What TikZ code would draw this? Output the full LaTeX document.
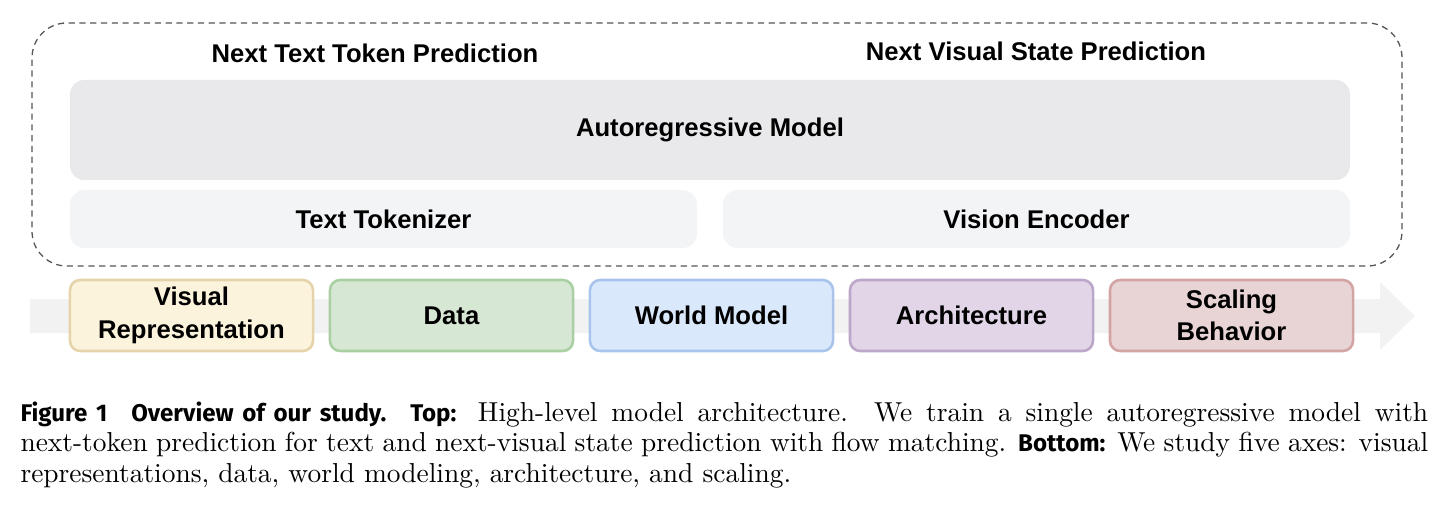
\documentclass[tikz,border=0pt]{standalone}
\usepackage{fontspec}
\newfontfamily\diagfont{Liberation Sans}
\newfontfamily\capfont{Fira Sans}
\definecolor{framegray}{HTML}{555555}
\definecolor{arfill}{HTML}{E9E9EC}
\definecolor{encfill}{HTML}{F3F4F6}
\definecolor{flowgray}{HTML}{F2F2F2}
\definecolor{visfill}{HTML}{FCF3DC}\definecolor{visline}{HTML}{E5D4AA}
\definecolor{datfill}{HTML}{D6E8D4}\definecolor{datline}{HTML}{A9CFA3}
\definecolor{wmfill}{HTML}{DAE8FC}\definecolor{wmline}{HTML}{A9C4EB}
\definecolor{arcfill}{HTML}{E1D5E7}\definecolor{arcline}{HTML}{BCA6C9}
\definecolor{scafill}{HTML}{E9D4D5}\definecolor{scaline}{HTML}{D3A4A4}
\tikzset{
  lbl/.style={font=\diagfont\bfseries\fontsize{10}{12}\selectfont,align=center,inner sep=0pt},
  layer/.style={lbl,rounded corners=5.5pt,minimum width=499.2pt},
  axis/.style={lbl,font=\diagfont\bfseries\fontsize{10}{12.6}\selectfont,rounded corners=4pt,line width=1pt,minimum width=94.8pt,minimum height=27.7pt},
}
\begin{document}
\begin{tikzpicture}[x=0.39pt,y=-0.39pt]
\useasboundingbox (0,0) rectangle (1442,507);
\node[draw=framegray,line width=0.5pt,dash pattern=on 2.4pt off 1.8pt,rounded corners=13.6pt,minimum width=534.3pt,minimum height=94.8pt] (study) at (717,144.5) {};
\node[lbl] (nexttext) at (375,53) {Next Text Token Prediction};
\node[lbl] (nextvis) at (1036,51) {Next Visual State Prediction};
\node[layer,fill=arfill,minimum height=39pt] (armodel) at (710,130) {Autoregressive Model};
\node[layer,fill=encfill,minimum width=244.5pt,minimum height=22.6pt] (tok) at (383.5,219) {Text Tokenizer};
\node[layer,fill=encfill,minimum width=244.5pt,minimum height=22.6pt] (venc) at (1036.5,219) {Vision Encoder};
\fill[flowgray] (30,299) -- (1380,299) -- (1380,282) -- (1415,316) -- (1380,350) -- (1380,333) -- (30,333) -- cycle;
\node[axis,draw=visline,fill=visfill] (visrep) at (191.5,315.5) {Visual\\Representation};
\node[axis,draw=datline,fill=datfill] (data) at (451.5,315.5) {Data};
\node[axis,draw=wmline,fill=wmfill] (world) at (711.5,315.5) {World Model};
\node[axis,draw=arcline,fill=arcfill] (arch) at (971.5,315.5) {Architecture};
\node[axis,draw=scaline,fill=scafill] (scaling) at (1231.5,315.5) {Scaling\\Behavior};
\node[anchor=base west,inner sep=0pt,text width=549pt,align=justify,font=\fontsize{10.7}{12}\selectfont] (caption) at (20,421)
  {{\capfont\bfseries\fontsize{9.4}{12}\selectfont Figure 1\quad Overview of our study.\quad Top:} High-level model architecture.  We train a single autoregressive model with\linebreak
  next-token prediction for text and next-visual state prediction with flow matching. {\capfont\bfseries\fontsize{9.4}{12}\selectfont Bottom:} We study five axes: visual\linebreak
  representations, data, world modeling, architecture, and scaling.};
\end{tikzpicture}
\end{document}
